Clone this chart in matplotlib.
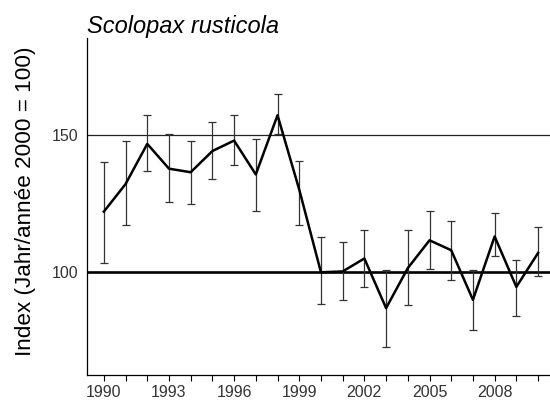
import matplotlib.pyplot as plt

plt.rcParams['font.family'] = ['Liberation Sans', 'DejaVu Sans']

years = list(range(1990, 2011))
index = [122, 132, 146.6, 137.6, 136.3, 144, 147.8, 135.5, 157, 130,
         100, 100.3, 105, 87, 101.5, 111.6, 108, 90, 113, 94.7, 107]
upper = [140, 147.5, 157, 150.2, 147.5, 154.5, 157.2, 148.2, 164.7, 140.3,
         112.8, 111, 115.2, 100.7, 115.2, 122.2, 118.6, 100.7, 121.5, 104.3, 116.4]
lower = [103.3, 117.3, 136.6, 125.5, 124.6, 133.7, 138.8, 122.2, 150.3, 117.3,
         88.4, 90.1, 94.7, 72.7, 88, 101.3, 97.1, 79, 105.8, 84.2, 98.7]

yerr = [[v - lo for v, lo in zip(index, lower)],
        [up - v for v, up in zip(index, upper)]]

fig = plt.figure(figsize=(5.5, 4.05), dpi=100)
ax = fig.add_axes([0.158, 0.074, 0.842, 0.832])

ax.axhline(150, color='#222222', lw=0.9, zorder=1)
ax.axhline(100, color='black', lw=1.9, zorder=1)

ax.errorbar(years, index, yerr=yerr, fmt='none', ecolor='#333333',
            elinewidth=0.9, capsize=3, capthick=0.9, zorder=2)
ax.plot(years, index, color='black', lw=1.8, zorder=3)

ax.set_xlim(1989.22, 2010.55)
ax.set_ylim(62.7, 185)
ax.set_xticks(years)
ax.set_xticklabels([str(y) if (y - 1990) % 3 == 0 else '' for y in years])
ax.set_yticks([100, 150])
ax.tick_params(axis='x', length=4, width=0.8, labelsize=11.5, labelcolor='#333333', pad=3)
ax.tick_params(axis='y', length=0, labelsize=11.5, labelcolor='#333333', pad=6)

ax.spines['top'].set_visible(False)
ax.spines['right'].set_visible(False)
ax.spines['left'].set_linewidth(0.9)
ax.spines['bottom'].set_linewidth(0.9)

ax.set_ylabel('Index (Jahr/année 2000 = 100)', fontsize=16.2)
ax.yaxis.set_label_coords(-0.11, 0.515)
ax.set_title('Scolopax rusticola', loc='left', style='italic', fontsize=17, pad=4)

fig.savefig('out.png', dpi=100)
